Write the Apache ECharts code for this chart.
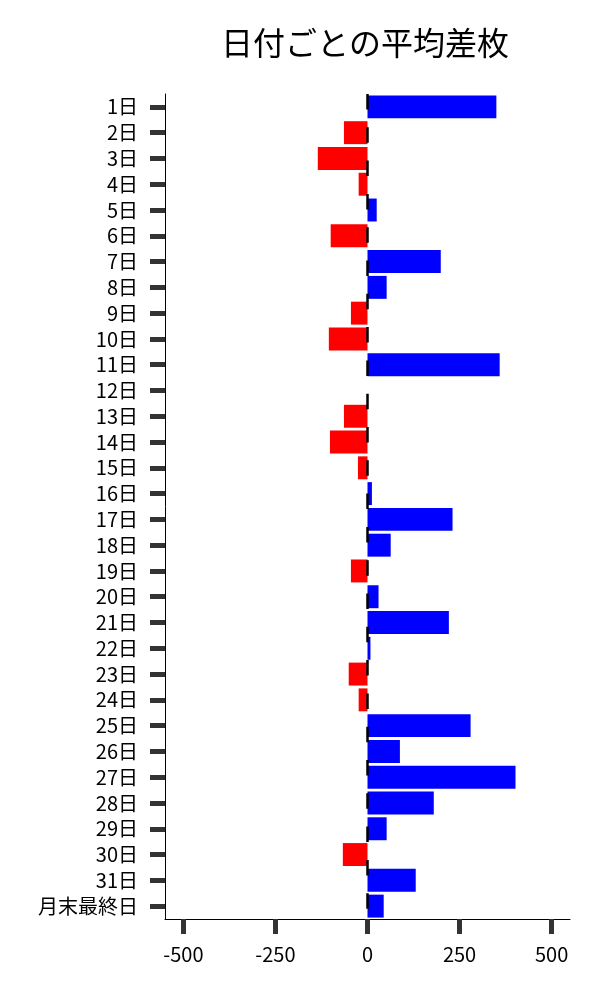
<!DOCTYPE html>
<html>
<head>
<meta charset="utf-8">
<script src="https://cdn.jsdelivr.net/npm/echarts@6/dist/echarts.min.js"></script>
<style>
html,body{margin:0;padding:0;background:#fff;}
#main{width:600px;height:1000px;}
</style>
</head>
<body>
<div id="main"></div>
<script>
const chartTitle = '日付ごとの平均差枚';
const categories = ['1日','2日','3日','4日','5日','6日','7日','8日','9日','10日','11日','12日','13日','14日','15日','16日','17日','18日','19日','20日','21日','22日','23日','24日','25日','26日','27日','28日','29日','30日','31日','月末最終日'];
const avgDiff = [350,-64,-135,-24,25,-100,199,52,-45,-105,359,0,-64,-102,-26,12,231,63,-45,30,221,8,-51,-24,280,88,402,180,52,-67,131,44];
const xTicks = [-500,-250,0,250,500];
const xMin = -550, xMax = 550;

const FONT = '"Noto Sans CJK JP", "Noto Sans", sans-serif';
const chart = echarts.init(document.getElementById('main'), null, {renderer:'canvas'});
chart.setOption({
  animation: false,
  backgroundColor: '#ffffff',
  title: {
    text: chartTitle,
    left: 360, top: 22, textAlign: 'center',
    textStyle: {fontFamily: FONT, fontSize: 32, fontWeight: 'normal', color: '#000'}
  },
  grid: {left: 165, right: 30, top: 94, bottom: 81, containLabel: false},
  xAxis: {
    type: 'value', min: xMin, max: xMax,
    axisLine: {show: true, onZero: false, lineStyle: {color: '#000', width: 1}},
    axisTick: {show: true, length: 15, customValues: xTicks, lineStyle: {color: '#333', width: 5}},
    axisLabel: {customValues: xTicks, margin: 25, fontFamily: FONT, fontSize: 20, color: '#000'},
    splitLine: {show: false}
  },
  yAxis: {
    type: 'category', data: categories, inverse: true,
    axisLine: {show: true, onZero: false, lineStyle: {color: '#000', width: 1}},
    axisTick: {show: true, interval: 0, alignWithLabel: true, length: 15, lineStyle: {color: '#333', width: 5}},
    axisLabel: {interval: 0, margin: 27, fontFamily: FONT, fontSize: 20, color: '#000'}
  },
  series: [{
    type: 'bar',
    data: avgDiff,
    barCategoryGap: '11%',
    itemStyle: {color: p => p.value >= 0 ? '#0000ff' : '#ff0000'},
    markLine: {
      silent: true, symbol: 'none', label: {show: false},
      lineStyle: {color: '#000', width: 2.5, type: [15.5, 17.8], dashOffset: 0},
      data: [{xAxis: 0}]
    }
  }]
});
</script>
</body>
</html>
